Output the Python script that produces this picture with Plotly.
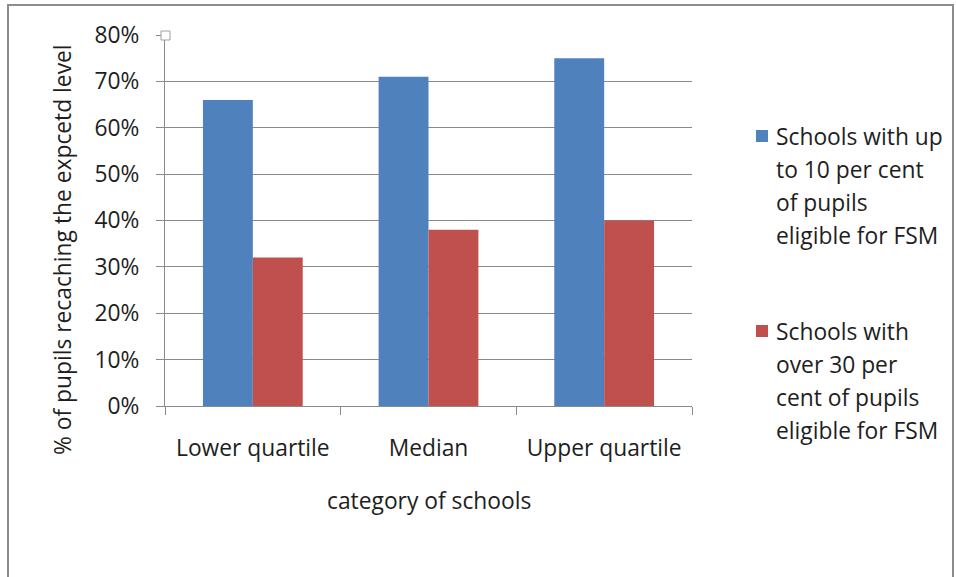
import plotly.graph_objects as go

categories = ["Lower quartile", "Median", "Upper quartile"]
series_names = [
    ["Schools with up", "to 10 per cent", "of pupils", "eligible for FSM"],
    ["Schools with", "over 30 per", "cent of pupils", "eligible for FSM"],
]
low_fsm = [0.66, 0.71, 0.75]
high_fsm = [0.32, 0.38, 0.40]
y_ticks = [0, 0.1, 0.2, 0.3, 0.4, 0.5, 0.6, 0.7, 0.8]
colors = ["#4F81BD", "#C0504D"]

W, H = 956, 577
L, R, T, B = 165, 692, 35, 406
FONT = "Open Sans"
FS = 22.8
TXT = "#1e1e1e"
GRID = "#8a8a8a"


def px(x):
    return (x - L) / (R - L)


def py(y):
    return (B - y) / (B - T)


fig = go.Figure()
for vals, nm, c in zip([low_fsm, high_fsm], series_names, colors):
    fig.add_trace(go.Bar(x=categories, y=vals, name=" ".join(nm), marker=dict(color=c, line=dict(width=0)),
                         showlegend=False))

fig.update_layout(
    width=W, height=H,
    margin=dict(l=L, r=W - R, t=T, b=H - B),
    paper_bgcolor="white", plot_bgcolor="white",
    barmode="group", bargap=0.432, bargroupgap=0,
    font=dict(family=FONT, size=FS, color=TXT),
)
fig.update_yaxes(
    range=[0, 0.8], tickvals=y_ticks, tickformat=".0%",
    showgrid=True, gridcolor=GRID, gridwidth=1,
    showline=True, linecolor=GRID, linewidth=1,
    ticks="outside", ticklen=8, tickcolor=GRID,
    ticklabelstandoff=12, zeroline=False,
    tickfont=dict(size=FS, family=FONT, color=TXT),
)
fig.update_xaxes(
    showgrid=False, showline=True, linecolor=GRID, linewidth=1,
    ticks="outside", ticklen=8, tickcolor=GRID, tickson="boundaries",
    ticklabelstandoff=22,
    tickfont=dict(size=FS, family=FONT, color=TXT),
)

# outer chart border
fig.add_shape(type="rect", xref="paper", yref="paper",
              x0=px(8), x1=px(953), y0=py(600), y1=py(5),
              line=dict(color="#8c8c8c", width=2), fillcolor="rgba(0,0,0,0)", layer="below")
# small selection handle at top-left of plot area
fig.add_shape(type="rect", xref="paper", yref="paper",
              x0=px(161), x1=px(170), y0=py(40), y1=py(31),
              line=dict(color="#a0a0a0", width=1), fillcolor="white")

# axis titles
fig.add_annotation(text="% of pupils recaching the expcetd level", xref="paper", yref="paper",
                   x=px(62), y=py(250), textangle=-90, showarrow=False,
                   xanchor="center", yanchor="middle", font=dict(size=FS, family=FONT, color=TXT))
fig.add_annotation(text="category of schools", xref="paper", yref="paper",
                   x=px(429), y=py(501), showarrow=False,
                   xanchor="center", yanchor="middle", font=dict(size=FS, family=FONT, color=TXT))

# legend
legend_tops = [136, 331]
line_gap = 33.3
for top, lines, c in zip(legend_tops, series_names, colors):
    fig.add_shape(type="rect", xref="paper", yref="paper",
                  x0=px(756), x1=px(768), y0=py(top + 6), y1=py(top - 6),
                  line=dict(width=0), fillcolor=c)
    for i, ln in enumerate(lines):
        fig.add_annotation(text=ln, xref="paper", yref="paper",
                           x=px(774), y=py(top + i * line_gap), showarrow=False,
                           xanchor="left", yanchor="middle",
                           font=dict(size=FS, family=FONT, color=TXT))

fig.write_html("out.html")
